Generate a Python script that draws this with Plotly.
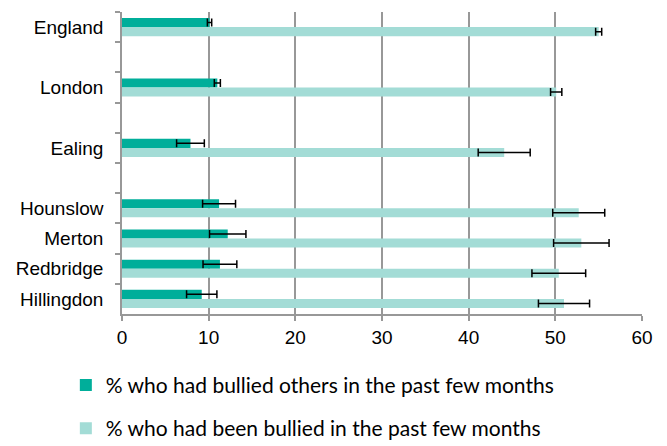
import plotly.graph_objects as go

# Area labels; blank entries leave spacer rows between the groups
areas = ["England", " ", "London", "  ", "Ealing", "   ",
         "Hounslow", "Merton", "Redbridge", "Hillingdon"]

# % who had bullied others in the past few months
bullied_others = [10.1, None, 11.0, None, 7.9, None, 11.2, 12.2, 11.3, 9.2]
bullied_others_err = [0.25, None, 0.35, None, 1.6, None, 1.9, 2.1, 1.95, 1.75]

# % who had been bullied in the past few months
been_bullied = [55.0, None, 50.1, None, 44.1, None, 52.7, 53.0, 50.4, 51.0]
been_bullied_err = [0.35, None, 0.65, None, 3.0, None, 3.0, 3.2, 3.1, 2.95]

x_ticks = [0, 10, 20, 30, 40, 50, 60]

DARK = "#00ae9a"
LIGHT = "#a3dcd6"
GRID = "#989898"

fig = go.Figure()
fig.add_trace(go.Bar(
    y=areas, x=bullied_others, orientation="h",
    name="% who had bullied others in the past few months",
    marker=dict(color=DARK, line=dict(width=0)),
    error_x=dict(type="data", array=bullied_others_err, color="black",
                 thickness=1.5, width=4),
    legendgroup="a",
))
fig.add_trace(go.Bar(
    y=areas, x=been_bullied, orientation="h",
    name="% who had been bullied in the past few months",
    marker=dict(color=LIGHT, line=dict(width=0)),
    error_x=dict(type="data", array=been_bullied_err, color="black",
                 thickness=1.5, width=4),
    legendgroup="b",
))

fig.update_layout(
    width=667, height=446,
    margin=dict(l=122, r=25, t=12, b=132, autoexpand=False),
    paper_bgcolor="white", plot_bgcolor="white",
    barmode="group", bargap=0.4, bargroupgap=0,
    font=dict(family="Liberation Sans", size=19, color="black"),
    showlegend=True,
    legend=dict(
        orientation="v", x=-0.108, xanchor="left", y=-0.168, yanchor="top",
        font=dict(family="Lato", size=21, color="black"),
        tracegroupgap=13, traceorder="grouped",
        bgcolor="rgba(0,0,0,0)", borderwidth=0,
        itemwidth=30,
    ),
    xaxis=dict(
        range=[0, 60], tickvals=x_ticks, ticktext=[str(v) for v in x_ticks],
        showgrid=True, gridcolor=GRID, gridwidth=1.5,
        showline=True, linecolor=GRID, linewidth=1.5,
        ticks="outside", ticklen=5, tickcolor=GRID, tickwidth=1.5,
        zeroline=False, fixedrange=True,
        tickfont=dict(family="Liberation Sans", size=19),
    ),
    yaxis=dict(
        type="category", categoryorder="array", categoryarray=areas,
        range=[len(areas) - 0.5, -0.5],
        showgrid=False, zeroline=False,
        showline=True, linecolor=GRID, linewidth=1.5,
        ticks="outside", ticklen=5, tickcolor=GRID, tickwidth=1.5,
        tickson="boundaries", ticklabelstandoff=13,
        tickfont=dict(family="Liberation Sans", size=19),
    ),
)

fig.write_html("out.html")
